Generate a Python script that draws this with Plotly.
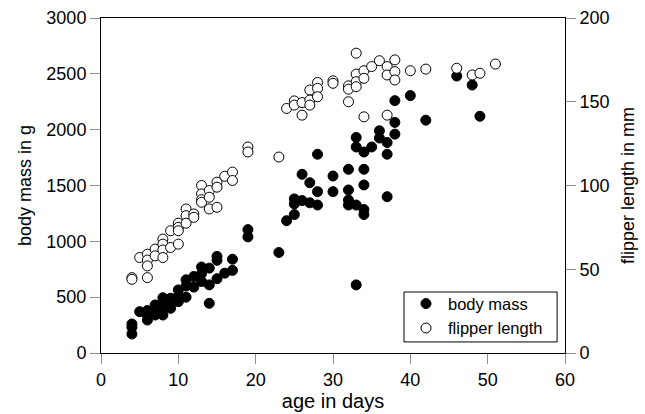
import plotly.graph_objects as go

# Body mass (g) by age (days)
mass_age = [4, 4, 4, 5, 6, 6, 6, 7, 7, 7, 8, 8, 8, 8, 9, 9, 9, 10, 10, 10,
            11, 11, 11, 12, 12, 13, 13, 13, 14, 14, 14, 15, 15, 15, 16, 17, 17,
            19, 19, 23, 24, 25, 25, 25, 26, 26, 27, 27, 28, 28, 28, 30, 30,
            32, 32, 32, 32, 33, 33, 33, 33, 34, 34, 34, 34, 34, 35, 36, 36,
            37, 37, 37, 38, 38, 38, 40, 42, 46, 48, 49]
mass_g = [260, 230, 170, 370, 380, 295, 340, 430, 370, 340, 495, 410, 340, 450,
          490, 440, 400, 565, 460, 510, 655, 500, 600, 685, 590, 770, 710, 640,
          760, 610, 445, 865, 830, 665, 715, 840, 740, 1105, 1040, 900, 1185,
          1380, 1335, 1240, 1600, 1365, 1525, 1345, 1780, 1445, 1325, 1585, 1445,
          1645, 1460, 1370, 1325, 1930, 1845, 1325, 610, 1800, 1645, 1505, 1285,
          1240, 1845, 1990, 1925, 1885, 1780, 1400, 2260, 2065, 1960, 2305, 2085,
          2480, 2400, 2120]

# Flipper length (mm) by age (days)
flip_age = [4, 4, 5, 6, 6, 6, 6, 7, 7, 8, 8, 8, 8, 9, 9, 10, 10, 10, 10,
            11, 11, 11, 12, 12, 13, 13, 13, 13, 14, 14, 14, 15, 15, 15, 16, 17, 17,
            19, 19, 23, 24, 25, 25, 26, 26, 27, 27, 27, 28, 28, 28, 30, 30,
            32, 32, 32, 33, 33, 33, 33, 34, 34, 34, 35, 36, 37, 37, 37,
            38, 38, 38, 40, 42, 46, 48, 49, 51]
flip_mm = [45, 44, 57, 59, 55.5, 52, 45, 62, 58, 68, 65, 61.5, 57, 73, 63,
           77.5, 75, 73, 65, 86, 82, 77.5, 83, 81, 100, 95, 91.5, 90, 97, 93, 86,
           102, 99, 87, 105.5, 108, 103, 123, 120, 117, 146, 150.5, 148, 149.5, 142,
           157, 151, 148, 161.5, 158, 153, 162.5, 161, 159.5, 157.5, 150,
           179, 166.5, 162, 159, 168.5, 164, 141, 171, 174.5, 171, 166, 142,
           175, 168, 163, 168.5, 169.5, 170, 166, 167, 172.5]

x_ticks = [0, 10, 20, 30, 40, 50, 60]
y_ticks = [0, 500, 1000, 1500, 2000, 2500, 3000]
y2_ticks = [0, 50, 100, 150, 200]

FONT = "Liberation Sans, Arial, sans-serif"

fig = go.Figure()
fig.add_trace(go.Scatter(
    x=mass_age, y=mass_g, mode="markers", name="body mass",
    marker=dict(symbol="circle", size=10, color="black",
                line=dict(color="black", width=1)),
    yaxis="y"))
fig.add_trace(go.Scatter(
    x=flip_age, y=flip_mm, mode="markers", name="flipper length",
    marker=dict(symbol="circle", size=10, color="white",
                line=dict(color="black", width=1)),
    yaxis="y2"))

axis_common = dict(showgrid=False, zeroline=False, ticks="outside", ticklen=10,
                   tickcolor="#8c8c8c", tickwidth=1, automargin=False,
                   tickfont=dict(family=FONT, size=18, color="black"))

# legend frame
fig.add_shape(type="rect", xref="paper", yref="paper",
              x0=0.653, x1=0.983, y0=0.033, y1=0.182,
              line=dict(color="black", width=1), fillcolor="white", layer="above")

fig.update_layout(
    width=645, height=414,
    margin=dict(l=101, r=80, t=18, b=61),
    paper_bgcolor="white", plot_bgcolor="white",
    font=dict(family=FONT, color="black"),
    xaxis=dict(range=[0, 60], tickvals=x_ticks,
               showline=True, linecolor="black", linewidth=1, mirror=True,
               title=dict(text="age in days", font=dict(family=FONT, size=20),
                          standoff=1),
               **axis_common),
    yaxis=dict(range=[0, 3000], tickvals=y_ticks,
               showline=True, linecolor="black", linewidth=1,
               title=dict(text="body mass in g", font=dict(family=FONT, size=18),
                          standoff=10),
               **axis_common),
    yaxis2=dict(range=[0, 200], tickvals=y2_ticks, overlaying="y", side="right",
                showline=True, linecolor="black", linewidth=1,
                title=dict(text="flipper length in mm", font=dict(family=FONT, size=18),
                           standoff=12),
                **axis_common),
    legend=dict(x=0.653, y=0.199, xanchor="left", yanchor="top",
                borderwidth=0, bgcolor="rgba(0,0,0,0)",
                font=dict(family=FONT, size=16.5, color="black"),
                tracegroupgap=0, itemwidth=34),
    showlegend=True,
)

fig.write_html("out.html")
